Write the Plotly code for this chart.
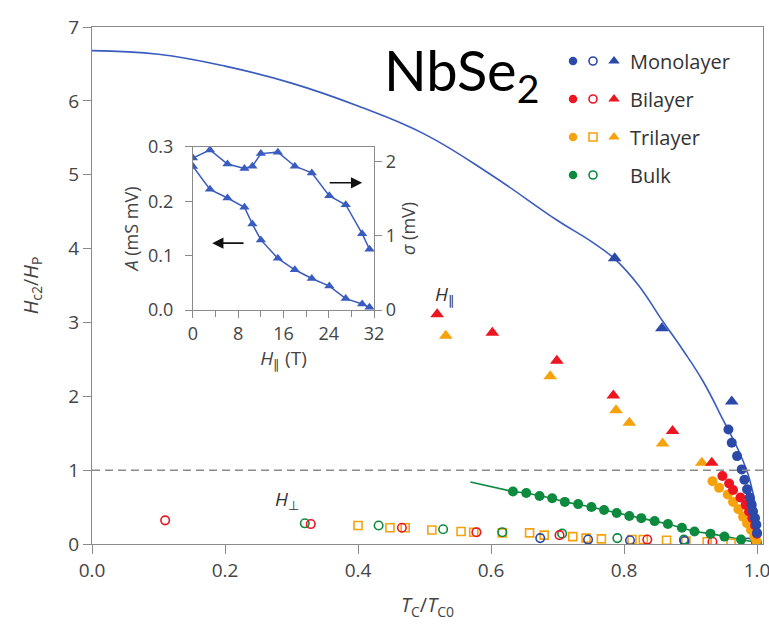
import plotly.graph_objects as go

# ---------------- data ----------------
# H_parallel (triangles)
mono_par_x = [0.786, 0.857, 0.962]
mono_par_y = [3.87, 2.92, 1.93]
bi_par_x = [0.519, 0.602, 0.699, 0.784, 0.873, 0.932]
bi_par_y = [3.11, 2.86, 2.48, 2.01, 1.53, 1.10]
tri_par_x = [0.532, 0.689, 0.788, 0.808, 0.858, 0.917]
tri_par_y = [2.82, 2.27, 1.81, 1.64, 1.36, 1.10]

# filled circles (near Tc0)
mono_fill_x = [0.957, 0.962, 0.970, 0.977, 0.981, 0.985, 0.989, 0.992, 0.994, 0.997, 0.999, 1.0]
mono_fill_y = [1.55, 1.37, 1.19, 1.01, 0.87, 0.74, 0.63, 0.53, 0.44, 0.35, 0.26, 0.15]
bi_fill_x = [0.948, 0.958, 0.964, 0.975, 0.983, 0.988, 0.993, 0.997, 1.0]
bi_fill_y = [0.92, 0.82, 0.73, 0.63, 0.53, 0.44, 0.35, 0.25, 0.14]
tri_fill_x = [0.933, 0.943, 0.956, 0.964, 0.972, 0.979, 0.985, 0.991, 0.996, 0.999]
tri_fill_y = [0.85, 0.76, 0.67, 0.57, 0.47, 0.37, 0.28, 0.19, 0.10, 0.04]
bulk_fill_x = [0.633, 0.653, 0.673, 0.692, 0.711, 0.731, 0.751, 0.770, 0.789, 0.808,
               0.826, 0.846, 0.866, 0.887, 0.906, 0.930, 0.951, 0.976, 1.0]
bulk_fill_y = [0.71, 0.69, 0.65, 0.62, 0.57, 0.54, 0.50, 0.46, 0.42, 0.38,
               0.35, 0.31, 0.27, 0.22, 0.17, 0.14, 0.10, 0.06, 0.02]
bulk_fit_x = [0.569] + bulk_fill_x
bulk_fit_y = [0.84] + bulk_fill_y

# H_perp (open symbols)
mono_perp_x = [0.674, 0.746, 0.809, 0.891, 0.986]
mono_perp_y = [0.08, 0.06, 0.05, 0.04, 0.02]
bi_perp_x = [0.110, 0.329, 0.466, 0.578, 0.703, 0.835, 0.933]
bi_perp_y = [0.32, 0.27, 0.22, 0.16, 0.12, 0.06, 0.03]
tri_perp_x = [0.400, 0.448, 0.471, 0.511, 0.555, 0.574, 0.617, 0.658, 0.680, 0.723,
              0.743, 0.766, 0.812, 0.829, 0.864, 0.893, 0.925, 0.961]
tri_perp_y = [0.25, 0.22, 0.22, 0.19, 0.17, 0.16, 0.15, 0.15, 0.12, 0.10,
              0.08, 0.07, 0.06, 0.06, 0.05, 0.04, 0.03, 0.01]
bulk_perp_x = [0.320, 0.431, 0.528, 0.617, 0.707, 0.790, 0.890]
bulk_perp_y = [0.28, 0.25, 0.20, 0.16, 0.14, 0.08, 0.06]

# monolayer fit curve
fit_x = [0, 0.1, 0.2, 0.3, 0.4, 0.5, 0.6, 0.7, 0.75, 0.786, 0.822, 0.858, 0.889, 0.919, 0.949,
         0.974, 0.989, 0.999, 1.0]
fit_y = [6.68, 6.63, 6.47, 6.24, 5.93, 5.55, 5.0, 4.38, 4.10, 3.86, 3.50, 3.02, 2.62, 2.20, 1.68,
         1.23, 0.87, 0.42, 0.0]

# inset
inset_H = [0, 3.0, 6.1, 9.1, 10.5, 12.0, 15.0, 18.0, 21.0, 24.1, 27.0, 29.9, 31.2]
inset_A = [0.264, 0.222, 0.206, 0.189, 0.158, 0.129, 0.095, 0.074, 0.058, 0.044, 0.021, 0.011, 0.005]
inset_sigma = [2.05, 2.16, 1.97, 1.91, 1.94, 2.11, 2.13, 1.94, 1.85, 1.54, 1.42, 1.03, 0.82]

x_ticks = [0.0, 0.2, 0.4, 0.6, 0.8, 1.0]
x_ticklabels = ["0.0", "0.2", "0.4", "0.6", "0.8", "1.0"]
y_ticks = [0, 1, 2, 3, 4, 5, 6, 7]
inset_x_major = 8
inset_x_minor = 4
inset_yA_ticks = [0.0, 0.1, 0.2, 0.3]
inset_yA_labels = ["0.0", "0.1", "0.2", "0.3"]
inset_ys_ticks = [0, 1, 2]

legend_labels = ["Monolayer", "Bilayer", "Trilayer", "Bulk"]

# ---------------- styles ----------------
BLUE = "#2b49a8"
BLUE_LINE = "#3a5bc0"
RED = "#ec1620"
ORANGE = "#f6a20c"
GREEN = "#0d8a3e"
AX = "#8a8a8a"
TXT = "#444444"
FONT = "Open Sans"

fig = go.Figure()

def add(x, y, color, symbol, size, xa="x", ya="y", lw=1.6):
    m = dict(color=color, symbol=symbol, size=size, line=dict(color=color, width=lw if "open" in symbol else 0))
    fig.add_trace(go.Scatter(x=x, y=y, mode="markers", marker=m, xaxis=xa, yaxis=ya,
                             showlegend=False, hoverinfo="skip"))

# fit lines
fig.add_trace(go.Scatter(x=fit_x, y=fit_y, mode="lines",
                         line=dict(color=BLUE_LINE, width=1.6, shape="spline", smoothing=1.2),
                         showlegend=False, hoverinfo="skip"))
fig.add_trace(go.Scatter(x=bulk_fit_x, y=bulk_fit_y, mode="lines", line=dict(color=GREEN, width=1.6),
                         showlegend=False, hoverinfo="skip"))

# open symbols
add(tri_perp_x, tri_perp_y, ORANGE, "square-open", 8)
add(bulk_perp_x, bulk_perp_y, GREEN, "circle-open", 8.5)
add(bi_perp_x, bi_perp_y, RED, "circle-open", 8.5)
add(mono_perp_x, mono_perp_y, BLUE, "circle-open", 8.5)

# filled circles
add(bulk_fill_x, bulk_fill_y, GREEN, "circle", 10)
add(tri_fill_x, tri_fill_y, ORANGE, "circle", 10)
add(bi_fill_x, bi_fill_y, RED, "circle", 10)
add(mono_fill_x, mono_fill_y, BLUE, "circle", 10)

# triangles
add(tri_par_x, tri_par_y, ORANGE, "triangle-up", 12)
add(bi_par_x, bi_par_y, RED, "triangle-up", 12)
add(mono_par_x, mono_par_y, BLUE, "triangle-up", 12)

# inset traces
fig.add_trace(go.Scatter(x=inset_H, y=inset_A, mode="lines+markers", xaxis="x2", yaxis="y2",
                         line=dict(color=BLUE_LINE, width=1.5),
                         marker=dict(symbol="triangle-up", size=9, color=BLUE_LINE),
                         showlegend=False, hoverinfo="skip"))
fig.add_trace(go.Scatter(x=inset_H, y=inset_sigma, mode="lines+markers", xaxis="x2", yaxis="y3",
                         line=dict(color=BLUE_LINE, width=1.5),
                         marker=dict(symbol="triangle-up", size=9, color=BLUE_LINE),
                         showlegend=False, hoverinfo="skip"))

# custom legend on an overlay pixel axis
leg_colors = [BLUE, RED, ORANGE, GREEN]
leg_open = ["circle-open", "circle-open", "square-open", "circle-open"]
leg_rows_y = [61, 99, 137, 175]
for i, lab in enumerate(legend_labels):
    yy = leg_rows_y[i]
    add([573], [yy], leg_colors[i], "circle", 8.5, xa="x4", ya="y4")
    add([593], [yy], leg_colors[i], leg_open[i], 8, xa="x4", ya="y4")
    if lab != "Bulk":
        add([614], [yy], leg_colors[i], "triangle-up", 10, xa="x4", ya="y4")
    fig.add_annotation(x=628, y=yy, xref="x4", yref="y4", text=lab, showarrow=False,
                       xanchor="left", yanchor="middle",
                       font=dict(family=FONT, size=20, color="#333333"))

def axis_common(tl=7, fs=19):
    return dict(showgrid=False, zeroline=False, showline=True, linecolor=AX, linewidth=1.2,
                ticks="outside", tickcolor=AX, ticklen=tl, tickwidth=1.2, automargin=False,
                ticklabeloverflow="allow",
                tickfont=dict(family=FONT, size=fs, color=TXT))

fig.update_layout(
    width=769, height=624,
    margin=dict(l=92, r=6, t=27, b=80),
    paper_bgcolor="white", plot_bgcolor="white",
    font=dict(family=FONT, color=TXT),
    xaxis=dict(range=[0, 1.009], tickvals=x_ticks, ticktext=x_ticklabels, mirror=True,
               title=dict(text="<i>T</i><sub>C</sub>/<i>T</i><sub>C0</sub>",
                          font=dict(family=FONT, size=20, color=TXT), standoff=16),
               **axis_common(tl=9)),
    yaxis=dict(range=[0, 7], tickvals=y_ticks, mirror=True,
               title=dict(text="<i>H</i><sub>c2</sub>/<i>H</i><sub>P</sub>",
                          font=dict(family=FONT, size=20, color=TXT), standoff=24),
               **axis_common(tl=8)),
    xaxis2=dict(domain=[0.1505, 0.4203], anchor="y2", range=[0, 32], tickmode="linear", tick0=0,
                dtick=inset_x_major, mirror=True,
                minor=dict(ticks="outside", dtick=inset_x_minor, ticklen=6, tickcolor=AX),
                title=dict(text="<i>H</i><sub>∥</sub> (T)", font=dict(family=FONT, size=19, color=TXT), standoff=4),
                **axis_common(fs=18)),
    yaxis2=dict(domain=[0.4526, 0.768], anchor="x2", range=[0, 0.3], tickvals=inset_yA_ticks,
                ticktext=inset_yA_labels, ticklabelstandoff=8,
                title=dict(text="<i>A</i> (mS mV)", font=dict(family=FONT, size=18, color=TXT), standoff=4),
                **axis_common(fs=18)),
    yaxis3=dict(overlaying="y2", anchor="x2", side="right", range=[0, 2.2], tickvals=inset_ys_ticks,
                title=dict(text="<i>σ</i> (mV)", font=dict(family=FONT, size=18, color=TXT), standoff=4),
                **axis_common(fs=18)),
    xaxis4=dict(overlaying="x", range=[92, 763], visible=False, anchor="y4", automargin=False),
    yaxis4=dict(overlaying="y", range=[544, 27], visible=False, anchor="x4", automargin=False),
)

# dashed line at Hc2/Hp = 1
fig.add_shape(type="line", xref="paper", yref="y", x0=0, x1=1, y0=1, y1=1,
              line=dict(color="#8a8a8a", width=1.5, dash="8px,5px"))

# arrows in inset
fig.add_annotation(x=3.4, y=0.123, ax=9.2, ay=0.123, xref="x2", yref="y2", axref="x2", ayref="y2",
                   showarrow=True, arrowhead=2, arrowsize=1.4, arrowwidth=1.6, arrowcolor="#111111", text="")
fig.add_annotation(x=29.9, y=0.234, ax=23.9, ay=0.234, xref="x2", yref="y2", axref="x2", ayref="y2",
                   showarrow=True, arrowhead=2, arrowsize=1.4, arrowwidth=1.6, arrowcolor="#111111", text="")

# text labels
fig.add_annotation(x=445, y=295, xref="x4", yref="y4", text="<i>H</i><sub>∥</sub>", showarrow=False,
                   font=dict(family=FONT, size=19, color="#333333"))
fig.add_annotation(x=287, y=500, xref="x4", yref="y4", text="<i>H</i><sub>⊥</sub>", showarrow=False,
                   font=dict(family=FONT, size=19, color="#333333"))
fig.add_annotation(x=382, y=73, xref="x4", yref="y4", text="NbSe<sub>2</sub>", showarrow=False,
                   xanchor="left", yanchor="middle",
                   font=dict(family="Lato", size=56, color="#000000"))

fig.write_html("out.html", config={"displayModeBar": False},
               post_script="document.body.style.margin='0';document.body.style.padding='0';")
